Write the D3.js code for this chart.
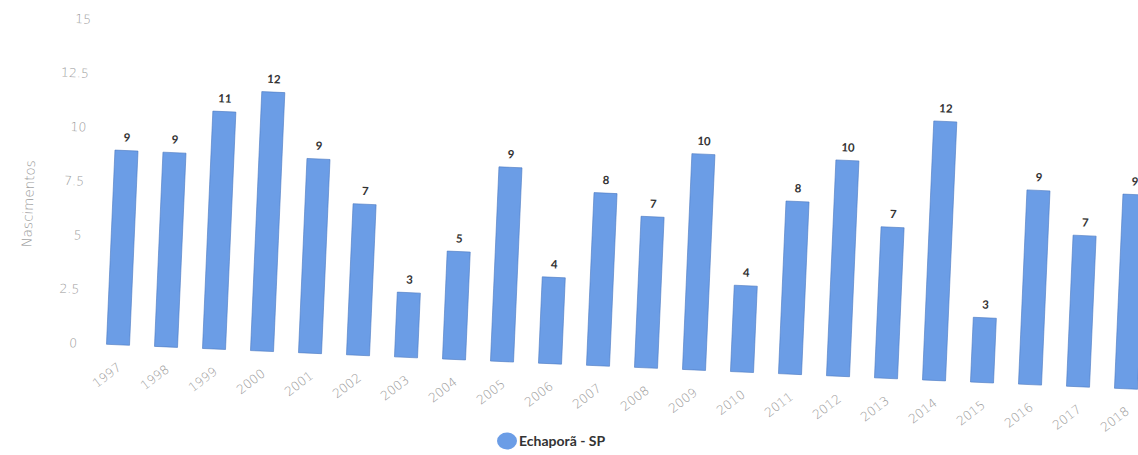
<!DOCTYPE html>
<html lang="pt">
<head>
<meta charset="UTF-8" />
<script src="https://cdn.jsdelivr.net/npm/d3@7"></script>
<style>
  body { margin: 0; background: #fff; }
</style>
</head>
<body>
<script>
var w = 1138;
var h = 455;

var years = ["1997", "1998", "1999", "2000", "2001", "2002", "2003", "2004", "2005", "2006", "2007",
             "2008", "2009", "2010", "2011", "2012", "2013", "2014", "2015", "2016", "2017", "2018"];
var births = [9, 9, 11, 12, 9, 7, 3, 5, 9, 4, 8, 7, 10, 4, 8, 10, 7, 12, 3, 9, 7, 9];
var yTicks = [0, 2.5, 5, 7.5, 10, 12.5, 15];
var seriesName = "Echaporã - SP";

var barColor = "#6b9de6";
var tickFont = "'DejaVu Sans', sans-serif";

var svg = d3.select("body").append("svg")
  .attr("width", w)
  .attr("height", h);

// scanned page is slightly tilted, keep the same tilt
var g = svg.append("g")
  .attr("transform", "rotate(2.5, 100, 344)");

var xScale = d3.scaleBand()
  .domain(years)
  .range([94, 1151])
  .paddingInner(0.52)
  .paddingOuter(0.26);

var yScale = d3.scaleLinear()
  .domain([0, 15])
  .range([344, 20]);

// y axis (labels only)
var yAxis = g.append("g")
  .attr("transform", "translate(80,0)")
  .call(d3.axisLeft(yScale).tickValues(yTicks).tickSize(0).tickPadding(3)
    .tickFormat(function (d) { return String(d); }));
yAxis.select(".domain").remove();
yAxis.selectAll("text")
  .attr("font-family", tickFont)
  .attr("font-weight", 200)
  .attr("font-size", "12.5px")
  .attr("fill", "#999");

g.append("text")
  .attr("transform", "translate(27,207) rotate(-90)")
  .attr("text-anchor", "middle")
  .attr("font-family", tickFont)
  .attr("font-weight", 200)
  .attr("font-size", "13.5px")
  .attr("fill", "#999")
  .text("Nascimentos");

// bars
g.selectAll("rect.bar")
  .data(births)
  .enter()
  .append("rect")
  .attr("class", "bar")
  .attr("x", function (d, i) { return xScale(years[i]); })
  .attr("y", function (d) { return yScale(d); })
  .attr("width", xScale.bandwidth())
  .attr("height", function (d) { return yScale(0) - yScale(d); })
  .attr("fill", barColor)
  .attr("stroke", "#4a78c0")
  .attr("stroke-width", 0.6);

// value labels
g.selectAll("text.val")
  .data(births)
  .enter()
  .append("text")
  .attr("class", "val")
  .attr("x", function (d, i) { return xScale(years[i]) + xScale.bandwidth() / 2; })
  .attr("y", function (d) { return yScale(d) - 9; })
  .attr("text-anchor", "middle")
  .attr("font-family", "Lato, sans-serif")
  .attr("font-weight", "bold")
  .attr("font-size", "11.5px")
  .attr("fill", "#333")
  .text(function (d) { return d; });

// x axis
var xAxis = g.append("g")
  .attr("transform", "translate(0,344)")
  .call(d3.axisBottom(xScale).tickSize(0).tickPadding(0));
xAxis.select(".domain").remove();
xAxis.selectAll("text")
  .attr("font-family", tickFont)
  .attr("font-weight", 200)
  .attr("font-size", "12.5px")
  .attr("fill", "#999")
  .attr("text-anchor", "end")
  .attr("dy", null)
  .attr("y", 0)
  .attr("transform", "translate(5,24) rotate(-40)");

// legend
var legend = svg.append("g")
  .attr("transform", "translate(507,441)");
legend.append("ellipse")
  .attr("rx", 10)
  .attr("ry", 8.5)
  .attr("fill", barColor);
legend.append("text")
  .attr("x", 12)
  .attr("y", 5)
  .attr("font-family", "Lato, sans-serif")
  .attr("font-weight", "bold")
  .attr("font-size", "14px")
  .attr("fill", "#333")
  .text(seriesName);
</script>
</body>
</html>
